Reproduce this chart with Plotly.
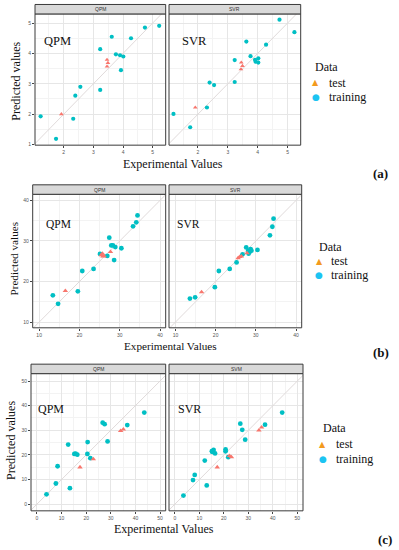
import plotly.graph_objects as go

# ---------------- data ----------------
# (a)
a_qpm_train_x = [1.22, 1.74, 2.32, 2.39, 2.56, 3.23, 3.23, 3.62, 3.76, 3.90, 3.93, 4.01, 4.27, 4.74, 5.22]
a_qpm_train_y = [1.93, 1.19, 1.85, 2.61, 2.90, 2.80, 4.14, 4.55, 3.97, 3.94, 3.45, 3.90, 4.50, 4.85, 4.91]
a_qpm_test_x = [1.92, 3.46, 3.49, 3.46]
a_qpm_test_y = [2.00, 3.79, 3.69, 3.57]
a_svr_train_x = [1.18, 1.74, 2.30, 2.39, 2.54, 3.23, 3.23, 3.62, 3.76, 3.91, 3.93, 4.02, 4.02, 4.28, 4.73, 5.23]
a_svr_train_y = [2.01, 1.57, 2.22, 3.04, 2.96, 3.06, 3.78, 4.39, 3.91, 3.79, 3.73, 3.84, 3.70, 4.29, 5.11, 4.70]
a_svr_test_x = [1.91, 3.45, 3.49, 3.44]
a_svr_test_y = [2.22, 3.70, 3.59, 3.48]

# (b)
b_qpm_train_x = [13.4, 14.7, 19.6, 20.7, 23.5, 25.1, 26.9, 27.4, 27.9, 28.3, 28.9, 28.6, 30.4, 33.3, 34.1, 34.4]
b_qpm_train_y = [16.6, 14.5, 17.6, 22.6, 23.1, 26.8, 26.3, 30.8, 28.9, 28.9, 28.5, 25.3, 28.2, 33.6, 34.6, 36.3]
b_qpm_test_x = [16.5, 25.4, 25.7, 26.1, 25.8, 27.7]
b_qpm_test_y = [17.7, 26.5, 26.9, 26.3, 26.2, 27.3]
b_svr_train_x = [13.6, 14.9, 19.8, 20.8, 23.5, 25.2, 26.7, 27.6, 28.1, 28.4, 28.7, 28.9, 28.2, 30.4, 33.5, 34.1, 34.4]
b_svr_train_y = [15.8, 16.1, 18.6, 22.6, 23.1, 24.7, 26.7, 28.4, 27.6, 27.2, 28.0, 27.6, 26.9, 27.8, 31.4, 33.5, 35.5]
b_svr_test_x = [16.5, 25.6, 26.0, 26.4, 27.8]
b_svr_test_y = [17.4, 25.8, 26.1, 26.2, 27.0]

# (c)
c_qpm_train_x = [3.9, 7.7, 8.4, 13.4, 12.7, 15.2, 15.7, 16.4, 20.6, 20.5, 21.7, 26.7, 27.5, 28.7, 36.7, 43.6]
c_qpm_train_y = [4.0, 8.4, 15.4, 6.5, 24.2, 20.4, 20.5, 20.1, 25.2, 20.4, 18.7, 33.1, 32.5, 25.5, 32.1, 37.2]
c_qpm_test_x = [17.5, 22.9, 34.0, 35.1]
c_qpm_test_y = [15.0, 18.3, 29.8, 30.4]
c_svr_train_x = [3.5, 7.4, 8.1, 13.0, 12.2, 15.1, 15.8, 15.3, 16.4, 20.7, 20.7, 21.8, 26.7, 27.5, 28.7, 36.8, 43.8]
c_svr_train_y = [3.5, 9.8, 11.9, 7.6, 17.7, 21.5, 22.0, 21.2, 20.6, 22.2, 21.5, 19.1, 32.7, 30.2, 26.2, 32.3, 37.2]
c_svr_test_x = [17.3, 22.3, 23.1, 34.3, 35.4]
c_svr_test_y = [15.0, 19.6, 19.1, 30.0, 31.2]

strip_labels = [["QPM", "SVR"], ["QPM", "SVR"], ["QPM", "SVM"]]
inner_labels = ["QPM", "SVR"]
row_tags = ["(a)", "(b)", "(c)"]
legend_title = "Data"
legend_items = ["test", "training"]
x_title = "Experimental Values"
y_title = "Predicted values"

# ---------------- layout geometry (pixels) ----------------
W, H = 399, 550
def fx(p): return p / W
def fy(p): return 1 - p / H

rows = [
    dict(xd=[(35, 165.7), (169, 300.7)], yd=(14, 145.7), xr=[1.03, 5.44], yr=[0.98, 5.30], dt=1, mn=0.5,
         data=[(a_qpm_train_x, a_qpm_train_y, a_qpm_test_x, a_qpm_test_y),
               (a_svr_train_x, a_svr_train_y, a_svr_test_x, a_svr_test_y)],
         inner=[(57.5, 41), (194, 41)], isz=12.5, ms=4.2,
         ytitle=(16.5, 81.5, 12), xtitle=(173, 165, 12),
         leg=(313.3, 67, 315.7, 326.7, 83, 97), tag=(380.5, 174)),
    dict(xd=[(32.7, 165.7), (169, 301.7)], yd=(195, 329), xr=[8.4, 41.4], yr=[8.6, 41.5], dt=10, mn=5,
         data=[(b_qpm_train_x, b_qpm_train_y, b_qpm_test_x, b_qpm_test_y),
               (b_svr_train_x, b_svr_train_y, b_svr_test_x, b_svr_test_y)],
         inner=[(58.5, 225), (188, 225)], isz=11.5, ms=4.8,
         ytitle=(14, 259.5, 11.2), xtitle=(170, 347, 11.2),
         leg=(316.7, 247.7, 319.3, 329.3, 262, 276.5), tag=(381, 354)),
    dict(xd=[(31, 165.7), (169, 303)], yd=(375, 512.7), xr=[-2.4, 52.3], yr=[-2.7, 53.0], dt=10, mn=5,
         data=[(c_qpm_train_x, c_qpm_train_y, c_qpm_test_x, c_qpm_test_y),
               (c_svr_train_x, c_svr_train_y, c_svr_test_x, c_svr_test_y)],
         inner=[(51, 410), (189, 410)], isz=12, ms=4.8,
         ytitle=(11, 442.5, 12), xtitle=(164, 531, 12),
         leg=(320.7, 430, 322.7, 334, 446, 460.5), tag=(385, 541.5)),
]

SERIF = "Liberation Serif, Times New Roman, serif"
SANS = "Liberation Sans, Arial, sans-serif"
TRAIN_C = "#00BFC4"
TEST_C = "#F8766D"

fig = go.Figure()
layout = {}
shapes = []
annotations = []

idx = 0
for r, row in enumerate(rows):
    for c in range(2):
        idx += 1
        xs = "" if idx == 1 else str(idx)
        xname, yname = "x" + xs, "y" + xs
        tx, ty, sx, sy = row["data"][c]
        lo = min(row["xr"][0], row["yr"][0]); hi = max(row["xr"][1], row["yr"][1])
        fig.add_trace(go.Scatter(x=[lo, hi], y=[lo, hi], mode="lines",
                                 line=dict(color="#dcd6d6", width=0.9),
                                 xaxis=xname, yaxis=yname, showlegend=False, hoverinfo="skip"))
        fig.add_trace(go.Scatter(x=tx, y=ty, mode="markers",
                                 marker=dict(color=TRAIN_C, size=row["ms"], symbol="circle"),
                                 xaxis=xname, yaxis=yname, showlegend=False))
        fig.add_trace(go.Scatter(x=sx, y=sy, mode="markers",
                                 marker=dict(color=TEST_C, size=row["ms"], symbol="triangle-up"),
                                 xaxis=xname, yaxis=yname, showlegend=False))
        x0, x1 = row["xd"][c]
        y0, y1 = row["yd"]
        common = dict(showgrid=True, gridcolor="#e6e6e6", gridwidth=0.6, zeroline=False,
                      showline=False, ticks="outside", ticklen=2, tickwidth=0.5, tickcolor="#444",
                      tickfont=dict(family=SANS, size=5, color="#555"), dtick=row["dt"], tick0=0,
                      minor=dict(dtick=row["mn"], showgrid=True, gridcolor="#f3f3f3", gridwidth=0.4, ticks=""),
                      fixedrange=True)
        layout["xaxis" + xs] = dict(domain=[fx(x0), fx(x1)], range=row["xr"], anchor=yname, **common)
        ycommon = dict(common)
        if c == 1:
            ycommon["showticklabels"] = False
            ycommon["ticks"] = ""
        layout["yaxis" + xs] = dict(domain=[fy(y1), fy(y0)], range=row["yr"], anchor=xname, **ycommon)
        # panel border
        shapes.append(dict(type="rect", xref="paper", yref="paper", x0=fx(x0), x1=fx(x1),
                           y0=fy(y1), y1=fy(y0), line=dict(color="#3a3a3a", width=1), layer="above"))
        # strip
        shapes.append(dict(type="rect", xref="paper", yref="paper", x0=fx(x0), x1=fx(x1),
                           y0=fy(y0), y1=fy(y0 - 9.5), fillcolor="#d9d9d9",
                           line=dict(color="#3a3a3a", width=1), layer="above"))
        annotations.append(dict(text=strip_labels[r][c], xref="paper", yref="paper",
                                x=fx((x0 + x1) / 2), y=fy(y0 - 4.75), showarrow=False,
                                font=dict(family=SANS, size=5, color="#333"),
                                xanchor="center", yanchor="middle"))
        # inner model label
        ix, iy = row["inner"][c]
        annotations.append(dict(text=inner_labels[c], xref="paper", yref="paper", x=fx(ix), y=fy(iy),
                                showarrow=False, font=dict(family=SERIF, size=row["isz"], color="#111"),
                                xanchor="center", yanchor="middle"))
    # axis titles
    ax, ay, asz = row["ytitle"]
    annotations.append(dict(text=y_title, xref="paper", yref="paper", x=fx(ax), y=fy(ay), textangle=-90,
                            showarrow=False, font=dict(family=SERIF, size=asz, color="#111"),
                            xanchor="center", yanchor="middle"))
    bx, by, bsz = row["xtitle"]
    annotations.append(dict(text=x_title, xref="paper", yref="paper", x=fx(bx), y=fy(by),
                            showarrow=False, font=dict(family=SERIF, size=bsz, color="#111"),
                            xanchor="center", yanchor="middle"))
    # legend
    lx, ly, mx, tx_, t1, t2 = row["leg"]
    annotations.append(dict(text=legend_title, xref="paper", yref="paper", x=fx(lx), y=fy(ly),
                            showarrow=False, font=dict(family=SERIF, size=12, color="#111"),
                            xanchor="left", yanchor="middle"))
    annotations.append(dict(text="▲", xref="paper", yref="paper", x=fx(mx), y=fy(t1),
                            showarrow=False, font=dict(family="DejaVu Sans", size=8, color="#F39A1E"),
                            xanchor="center", yanchor="middle"))
    annotations.append(dict(text="●", xref="paper", yref="paper", x=fx(mx), y=fy(t2),
                            showarrow=False, font=dict(family="DejaVu Sans", size=9, color="#1CC4F2"),
                            xanchor="center", yanchor="middle"))
    annotations.append(dict(text=legend_items[0], xref="paper", yref="paper", x=fx(tx_), y=fy(t1),
                            showarrow=False, font=dict(family=SERIF, size=12, color="#111"),
                            xanchor="left", yanchor="middle"))
    annotations.append(dict(text=legend_items[1], xref="paper", yref="paper", x=fx(tx_), y=fy(t2),
                            showarrow=False, font=dict(family=SERIF, size=12, color="#111"),
                            xanchor="left", yanchor="middle"))
    gx, gy = row["tag"]
    annotations.append(dict(text="<b>" + row_tags[r] + "</b>", xref="paper", yref="paper", x=fx(gx), y=fy(gy),
                            showarrow=False, font=dict(family=SERIF, size=13, color="#111"),
                            xanchor="center", yanchor="middle"))

fig.update_layout(width=W, height=H, margin=dict(l=0, r=0, t=0, b=0),
                  paper_bgcolor="white", plot_bgcolor="white", showlegend=False,
                  shapes=shapes, annotations=annotations, **layout)
fig.write_html("out.html", config={"displayModeBar": False},
               post_script="document.body.style.margin='0';document.body.style.overflow='hidden';")
